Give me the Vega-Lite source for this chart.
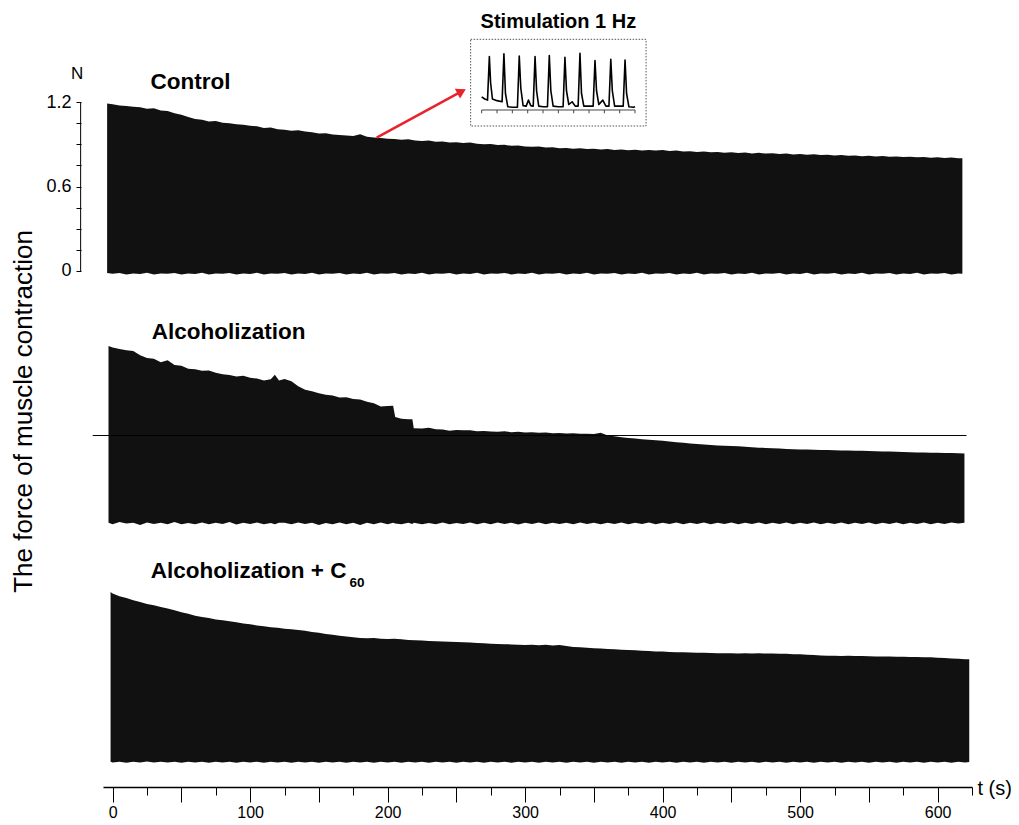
{
"$schema": "https://vega.github.io/schema/vega-lite/v6.json",
"width": 869, "height": 782,
"autosize": {"type": "none"},
"padding": {"left": 103, "top": 5, "right": 47, "bottom": 38},
"background": "white",
"config": {"view": {"stroke": null}, "font": "Liberation Sans",
  "axis": {"labelFont": "Liberation Sans", "titleFont": "Liberation Sans", "labelColor": "black", "titleColor": "black", "tickColor": "black", "domainColor": "black", "grid": false}},
"datasets": {
"ctrl": [
{"t":-4,"hi":1.19,"lo":-0.015},{"t":0,"hi":1.185,"lo":-0.02},{"t":5,"hi":1.176,"lo":-0.015},{"t":10,"hi":1.172,"lo":-0.024},{"t":15,"hi":1.167,"lo":-0.017},{"t":20,"hi":1.163,"lo":-0.021},{"t":25,"hi":1.152,"lo":-0.013},{"t":30,"hi":1.156,"lo":-0.025},{"t":35,"hi":1.14,"lo":-0.018},{"t":40,"hi":1.137,"lo":-0.02},{"t":45,"hi":1.121,"lo":-0.015},{"t":50,"hi":1.11,"lo":-0.024},{"t":55,"hi":1.093,"lo":-0.017},{"t":60,"hi":1.08,"lo":-0.021},{"t":65,"hi":1.075,"lo":-0.013},{"t":70,"hi":1.062,"lo":-0.025},{"t":75,"hi":1.066,"lo":-0.018},{"t":80,"hi":1.053,"lo":-0.02},{"t":85,"hi":1.05,"lo":-0.015},{"t":90,"hi":1.042,"lo":-0.024},{"t":95,"hi":1.038,"lo":-0.017},{"t":100,"hi":1.031,"lo":-0.021},{"t":105,"hi":1.028,"lo":-0.013},{"t":110,"hi":1.016,"lo":-0.025},{"t":115,"hi":1.02,"lo":-0.018},{"t":120,"hi":1.007,"lo":-0.02},{"t":125,"hi":1.004,"lo":-0.015},{"t":130,"hi":0.996,"lo":-0.024},{"t":135,"hi":1.0,"lo":-0.017},{"t":140,"hi":0.99,"lo":-0.021},{"t":145,"hi":0.985,"lo":-0.013},{"t":150,"hi":0.977,"lo":-0.025},{"t":155,"hi":0.979,"lo":-0.018},{"t":160,"hi":0.97,"lo":-0.02},{"t":165,"hi":0.966,"lo":-0.015},{"t":170,"hi":0.962,"lo":-0.024},{"t":175,"hi":0.958,"lo":-0.017},{"t":180,"hi":0.972,"lo":-0.021},{"t":185,"hi":0.953,"lo":-0.013},{"t":190,"hi":0.948,"lo":-0.025},{"t":195,"hi":0.944,"lo":-0.018},{"t":200,"hi":0.94,"lo":-0.02},{"t":205,"hi":0.938,"lo":-0.015},{"t":210,"hi":0.932,"lo":-0.024},{"t":215,"hi":0.935,"lo":-0.017},{"t":220,"hi":0.927,"lo":-0.021},{"t":225,"hi":0.924,"lo":-0.013},{"t":230,"hi":0.926,"lo":-0.025},{"t":235,"hi":0.918,"lo":-0.018},{"t":240,"hi":0.92,"lo":-0.02},{"t":245,"hi":0.913,"lo":-0.015},{"t":250,"hi":0.915,"lo":-0.024},{"t":255,"hi":0.909,"lo":-0.017},{"t":260,"hi":0.912,"lo":-0.021},{"t":265,"hi":0.903,"lo":-0.013},{"t":270,"hi":0.9,"lo":-0.025},{"t":275,"hi":0.902,"lo":-0.018},{"t":280,"hi":0.894,"lo":-0.02},{"t":285,"hi":0.896,"lo":-0.015},{"t":290,"hi":0.889,"lo":-0.024},{"t":295,"hi":0.891,"lo":-0.017},{"t":300,"hi":0.885,"lo":-0.021},{"t":305,"hi":0.882,"lo":-0.013},{"t":310,"hi":0.884,"lo":-0.025},{"t":315,"hi":0.877,"lo":-0.018},{"t":320,"hi":0.879,"lo":-0.02},{"t":325,"hi":0.872,"lo":-0.015},{"t":330,"hi":0.874,"lo":-0.024},{"t":335,"hi":0.868,"lo":-0.017},{"t":340,"hi":0.871,"lo":-0.021},{"t":345,"hi":0.866,"lo":-0.013},{"t":350,"hi":0.869,"lo":-0.025},{"t":355,"hi":0.863,"lo":-0.018},{"t":360,"hi":0.866,"lo":-0.02},{"t":365,"hi":0.86,"lo":-0.015},{"t":370,"hi":0.863,"lo":-0.024},{"t":375,"hi":0.857,"lo":-0.017},{"t":380,"hi":0.862,"lo":-0.021},{"t":385,"hi":0.856,"lo":-0.013},{"t":390,"hi":0.86,"lo":-0.025},{"t":395,"hi":0.855,"lo":-0.018},{"t":400,"hi":0.859,"lo":-0.02},{"t":405,"hi":0.852,"lo":-0.015},{"t":410,"hi":0.855,"lo":-0.024},{"t":415,"hi":0.848,"lo":-0.017},{"t":420,"hi":0.851,"lo":-0.021},{"t":425,"hi":0.846,"lo":-0.013},{"t":430,"hi":0.849,"lo":-0.025},{"t":435,"hi":0.843,"lo":-0.018},{"t":440,"hi":0.846,"lo":-0.02},{"t":445,"hi":0.84,"lo":-0.015},{"t":450,"hi":0.843,"lo":-0.024},{"t":455,"hi":0.838,"lo":-0.017},{"t":460,"hi":0.841,"lo":-0.021},{"t":465,"hi":0.835,"lo":-0.013},{"t":470,"hi":0.839,"lo":-0.025},{"t":475,"hi":0.834,"lo":-0.018},{"t":480,"hi":0.837,"lo":-0.02},{"t":485,"hi":0.831,"lo":-0.015},{"t":490,"hi":0.834,"lo":-0.024},{"t":495,"hi":0.828,"lo":-0.017},{"t":500,"hi":0.831,"lo":-0.021},{"t":505,"hi":0.826,"lo":-0.013},{"t":510,"hi":0.829,"lo":-0.025},{"t":515,"hi":0.823,"lo":-0.018},{"t":520,"hi":0.826,"lo":-0.02},{"t":525,"hi":0.82,"lo":-0.015},{"t":530,"hi":0.823,"lo":-0.024},{"t":535,"hi":0.818,"lo":-0.017},{"t":540,"hi":0.821,"lo":-0.021},{"t":545,"hi":0.815,"lo":-0.013},{"t":550,"hi":0.818,"lo":-0.025},{"t":555,"hi":0.813,"lo":-0.018},{"t":560,"hi":0.817,"lo":-0.02},{"t":565,"hi":0.811,"lo":-0.015},{"t":570,"hi":0.814,"lo":-0.024},{"t":575,"hi":0.809,"lo":-0.017},{"t":580,"hi":0.812,"lo":-0.021},{"t":585,"hi":0.807,"lo":-0.013},{"t":590,"hi":0.81,"lo":-0.025},{"t":595,"hi":0.805,"lo":-0.018},{"t":600,"hi":0.808,"lo":-0.02},{"t":605,"hi":0.803,"lo":-0.015},{"t":610,"hi":0.806,"lo":-0.024},{"t":615,"hi":0.8,"lo":-0.017},{"t":618,"hi":0.8,"lo":-0.02}
],
"alc": [
{"t":-3,"hi":1.236,"lo":-0.02},{"t":0,"hi":1.225,"lo":-0.03},{"t":5,"hi":1.215,"lo":-0.015},{"t":10,"hi":1.205,"lo":-0.025},{"t":15,"hi":1.2,"lo":-0.02},{"t":20,"hi":1.17,"lo":-0.035},{"t":25,"hi":1.15,"lo":-0.018},{"t":30,"hi":1.145,"lo":-0.028},{"t":35,"hi":1.12,"lo":-0.02},{"t":40,"hi":1.135,"lo":-0.03},{"t":45,"hi":1.1,"lo":-0.015},{"t":50,"hi":1.095,"lo":-0.03},{"t":55,"hi":1.075,"lo":-0.022},{"t":60,"hi":1.07,"lo":-0.03},{"t":65,"hi":1.06,"lo":-0.018},{"t":70,"hi":1.062,"lo":-0.03},{"t":75,"hi":1.045,"lo":-0.02},{"t":80,"hi":1.035,"lo":-0.028},{"t":85,"hi":1.03,"lo":-0.015},{"t":90,"hi":1.02,"lo":-0.032},{"t":95,"hi":1.025,"lo":-0.02},{"t":100,"hi":1.01,"lo":-0.028},{"t":105,"hi":1.005,"lo":-0.018},{"t":110,"hi":0.99,"lo":-0.03},{"t":115,"hi":1.0,"lo":-0.022},{"t":118,"hi":1.032,"lo":-0.03},{"t":121,"hi":0.99,"lo":-0.02},{"t":125,"hi":1.002,"lo":-0.02},{"t":130,"hi":0.985,"lo":-0.03},{"t":135,"hi":0.95,"lo":-0.018},{"t":140,"hi":0.925,"lo":-0.028},{"t":145,"hi":0.915,"lo":-0.02},{"t":150,"hi":0.9,"lo":-0.035},{"t":155,"hi":0.89,"lo":-0.022},{"t":160,"hi":0.885,"lo":-0.03},{"t":165,"hi":0.87,"lo":-0.018},{"t":170,"hi":0.872,"lo":-0.03},{"t":175,"hi":0.86,"lo":-0.02},{"t":180,"hi":0.855,"lo":-0.035},{"t":185,"hi":0.84,"lo":-0.02},{"t":190,"hi":0.83,"lo":-0.03},{"t":195,"hi":0.806,"lo":-0.018},{"t":200,"hi":0.81,"lo":-0.03},{"t":204,"hi":0.812,"lo":-0.02},{"t":205.5,"hi":0.732,"lo":-0.025},{"t":210,"hi":0.72,"lo":-0.03},{"t":215,"hi":0.716,"lo":-0.02},{"t":218,"hi":0.715,"lo":-0.028},{"t":219,"hi":0.652,"lo":-0.02},{"t":225,"hi":0.65,"lo":-0.03},{"t":230,"hi":0.655,"lo":-0.022},{"t":235,"hi":0.645,"lo":-0.03},{"t":240,"hi":0.642,"lo":-0.018},{"t":245,"hi":0.634,"lo":-0.03},{"t":250,"hi":0.64,"lo":-0.022},{"t":255,"hi":0.637,"lo":-0.028},{"t":260,"hi":0.638,"lo":-0.018},{"t":265,"hi":0.63,"lo":-0.03},{"t":270,"hi":0.633,"lo":-0.02},{"t":275,"hi":0.628,"lo":-0.03},{"t":280,"hi":0.627,"lo":-0.018},{"t":285,"hi":0.63,"lo":-0.028},{"t":290,"hi":0.624,"lo":-0.02},{"t":295,"hi":0.627,"lo":-0.032},{"t":300,"hi":0.622,"lo":-0.02},{"t":305,"hi":0.624,"lo":-0.028},{"t":310,"hi":0.62,"lo":-0.018},{"t":315,"hi":0.622,"lo":-0.03},{"t":320,"hi":0.617,"lo":-0.02},{"t":325,"hi":0.618,"lo":-0.028},{"t":330,"hi":0.614,"lo":-0.02},{"t":335,"hi":0.616,"lo":-0.03},{"t":340,"hi":0.612,"lo":-0.018},{"t":345,"hi":0.613,"lo":-0.028},{"t":350,"hi":0.61,"lo":-0.02},{"t":355,"hi":0.62,"lo":-0.03},{"t":360,"hi":0.6,"lo":-0.02},{"t":365,"hi":0.595,"lo":-0.028},{"t":370,"hi":0.588,"lo":-0.018},{"t":375,"hi":0.582,"lo":-0.03},{"t":380,"hi":0.578,"lo":-0.02},{"t":385,"hi":0.574,"lo":-0.028},{"t":390,"hi":0.57,"lo":-0.018},{"t":395,"hi":0.566,"lo":-0.03},{"t":400,"hi":0.563,"lo":-0.02},{"t":405,"hi":0.558,"lo":-0.028},{"t":410,"hi":0.552,"lo":-0.018},{"t":415,"hi":0.548,"lo":-0.03},{"t":420,"hi":0.543,"lo":-0.02},{"t":425,"hi":0.54,"lo":-0.028},{"t":430,"hi":0.536,"lo":-0.018},{"t":435,"hi":0.533,"lo":-0.03},{"t":440,"hi":0.53,"lo":-0.02},{"t":445,"hi":0.528,"lo":-0.028},{"t":450,"hi":0.525,"lo":-0.018},{"t":455,"hi":0.523,"lo":-0.03},{"t":460,"hi":0.52,"lo":-0.02},{"t":465,"hi":0.517,"lo":-0.028},{"t":470,"hi":0.514,"lo":-0.018},{"t":475,"hi":0.512,"lo":-0.03},{"t":480,"hi":0.51,"lo":-0.02},{"t":485,"hi":0.507,"lo":-0.028},{"t":490,"hi":0.505,"lo":-0.018},{"t":495,"hi":0.502,"lo":-0.03},{"t":500,"hi":0.501,"lo":-0.02},{"t":505,"hi":0.5,"lo":-0.028},{"t":510,"hi":0.499,"lo":-0.018},{"t":515,"hi":0.497,"lo":-0.03},{"t":520,"hi":0.497,"lo":-0.02},{"t":525,"hi":0.496,"lo":-0.028},{"t":530,"hi":0.494,"lo":-0.018},{"t":535,"hi":0.493,"lo":-0.03},{"t":540,"hi":0.492,"lo":-0.02},{"t":545,"hi":0.492,"lo":-0.028},{"t":550,"hi":0.49,"lo":-0.018},{"t":555,"hi":0.489,"lo":-0.03},{"t":560,"hi":0.487,"lo":-0.02},{"t":565,"hi":0.486,"lo":-0.028},{"t":570,"hi":0.485,"lo":-0.018},{"t":575,"hi":0.483,"lo":-0.03},{"t":580,"hi":0.482,"lo":-0.02},{"t":585,"hi":0.48,"lo":-0.028},{"t":590,"hi":0.479,"lo":-0.018},{"t":595,"hi":0.478,"lo":-0.03},{"t":600,"hi":0.477,"lo":-0.02},{"t":605,"hi":0.476,"lo":-0.028},{"t":610,"hi":0.475,"lo":-0.018},{"t":615,"hi":0.474,"lo":-0.025},{"t":619.5,"hi":0.473,"lo":-0.02}
],
"c60": [
{"t":-1.5,"hi":1.2,"lo":-0.005},{"t":0,"hi":1.19,"lo":-0.01},{"t":5,"hi":1.17,"lo":-0.005},{"t":10,"hi":1.158,"lo":-0.012},{"t":15,"hi":1.142,"lo":-0.006},{"t":20,"hi":1.13,"lo":-0.01},{"t":25,"hi":1.115,"lo":-0.004},{"t":30,"hi":1.106,"lo":-0.011},{"t":35,"hi":1.093,"lo":-0.006},{"t":40,"hi":1.083,"lo":-0.01},{"t":45,"hi":1.07,"lo":-0.005},{"t":50,"hi":1.056,"lo":-0.012},{"t":55,"hi":1.045,"lo":-0.006},{"t":60,"hi":1.032,"lo":-0.01},{"t":65,"hi":1.022,"lo":-0.005},{"t":70,"hi":1.015,"lo":-0.012},{"t":75,"hi":1.005,"lo":-0.006},{"t":80,"hi":0.999,"lo":-0.01},{"t":85,"hi":0.992,"lo":-0.005},{"t":90,"hi":0.985,"lo":-0.012},{"t":95,"hi":0.977,"lo":-0.006},{"t":100,"hi":0.971,"lo":-0.01},{"t":105,"hi":0.962,"lo":-0.005},{"t":110,"hi":0.957,"lo":-0.012},{"t":115,"hi":0.95,"lo":-0.006},{"t":120,"hi":0.946,"lo":-0.01},{"t":125,"hi":0.94,"lo":-0.005},{"t":130,"hi":0.935,"lo":-0.012},{"t":135,"hi":0.931,"lo":-0.006},{"t":140,"hi":0.925,"lo":-0.01},{"t":145,"hi":0.917,"lo":-0.005},{"t":150,"hi":0.91,"lo":-0.012},{"t":155,"hi":0.902,"lo":-0.006},{"t":160,"hi":0.896,"lo":-0.01},{"t":165,"hi":0.889,"lo":-0.005},{"t":170,"hi":0.884,"lo":-0.012},{"t":175,"hi":0.879,"lo":-0.006},{"t":180,"hi":0.874,"lo":-0.01},{"t":185,"hi":0.871,"lo":-0.005},{"t":190,"hi":0.873,"lo":-0.012},{"t":195,"hi":0.868,"lo":-0.006},{"t":200,"hi":0.866,"lo":-0.01},{"t":205,"hi":0.868,"lo":-0.005},{"t":210,"hi":0.864,"lo":-0.012},{"t":215,"hi":0.86,"lo":-0.006},{"t":220,"hi":0.857,"lo":-0.01},{"t":225,"hi":0.855,"lo":-0.005},{"t":230,"hi":0.853,"lo":-0.012},{"t":235,"hi":0.85,"lo":-0.006},{"t":240,"hi":0.849,"lo":-0.01},{"t":245,"hi":0.847,"lo":-0.005},{"t":250,"hi":0.845,"lo":-0.012},{"t":255,"hi":0.843,"lo":-0.006},{"t":260,"hi":0.842,"lo":-0.01},{"t":265,"hi":0.838,"lo":-0.005},{"t":270,"hi":0.836,"lo":-0.012},{"t":275,"hi":0.833,"lo":-0.006},{"t":280,"hi":0.831,"lo":-0.01},{"t":285,"hi":0.83,"lo":-0.005},{"t":290,"hi":0.828,"lo":-0.012},{"t":295,"hi":0.826,"lo":-0.006},{"t":300,"hi":0.824,"lo":-0.01},{"t":305,"hi":0.826,"lo":-0.005},{"t":310,"hi":0.822,"lo":-0.012},{"t":315,"hi":0.825,"lo":-0.006},{"t":320,"hi":0.82,"lo":-0.01},{"t":325,"hi":0.823,"lo":-0.005},{"t":330,"hi":0.816,"lo":-0.012},{"t":335,"hi":0.81,"lo":-0.006},{"t":340,"hi":0.807,"lo":-0.01},{"t":345,"hi":0.804,"lo":-0.005},{"t":350,"hi":0.801,"lo":-0.012},{"t":355,"hi":0.799,"lo":-0.006},{"t":360,"hi":0.795,"lo":-0.01},{"t":365,"hi":0.793,"lo":-0.005},{"t":370,"hi":0.79,"lo":-0.012},{"t":375,"hi":0.788,"lo":-0.006},{"t":380,"hi":0.786,"lo":-0.01},{"t":385,"hi":0.783,"lo":-0.005},{"t":390,"hi":0.781,"lo":-0.012},{"t":395,"hi":0.778,"lo":-0.006},{"t":400,"hi":0.777,"lo":-0.01},{"t":405,"hi":0.775,"lo":-0.005},{"t":410,"hi":0.773,"lo":-0.012},{"t":415,"hi":0.772,"lo":-0.006},{"t":420,"hi":0.77,"lo":-0.01},{"t":425,"hi":0.769,"lo":-0.005},{"t":430,"hi":0.768,"lo":-0.012},{"t":435,"hi":0.767,"lo":-0.006},{"t":440,"hi":0.766,"lo":-0.01},{"t":445,"hi":0.765,"lo":-0.005},{"t":450,"hi":0.765,"lo":-0.012},{"t":455,"hi":0.764,"lo":-0.006},{"t":460,"hi":0.766,"lo":-0.01},{"t":465,"hi":0.764,"lo":-0.005},{"t":470,"hi":0.765,"lo":-0.012},{"t":475,"hi":0.763,"lo":-0.006},{"t":480,"hi":0.764,"lo":-0.01},{"t":485,"hi":0.761,"lo":-0.005},{"t":490,"hi":0.762,"lo":-0.012},{"t":495,"hi":0.759,"lo":-0.006},{"t":500,"hi":0.758,"lo":-0.01},{"t":505,"hi":0.755,"lo":-0.005},{"t":510,"hi":0.752,"lo":-0.012},{"t":515,"hi":0.749,"lo":-0.006},{"t":520,"hi":0.747,"lo":-0.01},{"t":525,"hi":0.748,"lo":-0.005},{"t":530,"hi":0.745,"lo":-0.012},{"t":535,"hi":0.747,"lo":-0.006},{"t":540,"hi":0.745,"lo":-0.01},{"t":545,"hi":0.746,"lo":-0.005},{"t":550,"hi":0.744,"lo":-0.012},{"t":555,"hi":0.743,"lo":-0.006},{"t":560,"hi":0.742,"lo":-0.01},{"t":565,"hi":0.742,"lo":-0.005},{"t":570,"hi":0.741,"lo":-0.012},{"t":575,"hi":0.74,"lo":-0.006},{"t":580,"hi":0.739,"lo":-0.01},{"t":585,"hi":0.738,"lo":-0.005},{"t":590,"hi":0.737,"lo":-0.012},{"t":595,"hi":0.736,"lo":-0.006},{"t":600,"hi":0.734,"lo":-0.01},{"t":605,"hi":0.731,"lo":-0.005},{"t":610,"hi":0.728,"lo":-0.012},{"t":615,"hi":0.726,"lo":-0.006},{"t":620,"hi":0.723,"lo":-0.01},{"t":623,"hi":0.722,"lo":-0.008}
],
"inset": [
{"t":0,"v":0.24},{"t":0.2,"v":0.2},{"t":0.38,"v":0.18},{"t":0.5,"v":0.97},{"t":0.58,"v":0.5},{"t":0.7,"v":0.2},{"t":1.0,"v":0.17},{"t":1.33,"v":0.15},{"t":1.45,"v":1.02},{"t":1.55,"v":0.3},{"t":1.7,"v":0.06},{"t":2.0,"v":0.05},{"t":2.33,"v":0.05},{"t":2.45,"v":0.98},{"t":2.55,"v":0.4},{"t":2.7,"v":0.08},{"t":2.9,"v":0.07},{"t":3.05,"v":0.18},{"t":3.2,"v":0.08},{"t":3.36,"v":0.07},{"t":3.48,"v":0.97},{"t":3.58,"v":0.35},{"t":3.72,"v":0.07},{"t":4.0,"v":0.06},{"t":4.29,"v":0.06},{"t":4.41,"v":0.99},{"t":4.51,"v":0.35},{"t":4.66,"v":0.07},{"t":5.0,"v":0.06},{"t":5.31,"v":0.06},{"t":5.43,"v":0.96},{"t":5.53,"v":0.35},{"t":5.68,"v":0.1},{"t":5.9,"v":0.15},{"t":6.1,"v":0.07},{"t":6.29,"v":0.07},{"t":6.41,"v":1.03},{"t":6.51,"v":0.3},{"t":6.66,"v":0.07},{"t":7.0,"v":0.07},{"t":7.27,"v":0.07},{"t":7.39,"v":0.9},{"t":7.49,"v":0.35},{"t":7.64,"v":0.1},{"t":7.9,"v":0.18},{"t":8.1,"v":0.07},{"t":8.3,"v":0.07},{"t":8.42,"v":0.92},{"t":8.52,"v":0.35},{"t":8.67,"v":0.07},{"t":9.0,"v":0.07},{"t":9.23,"v":0.07},{"t":9.35,"v":0.91},{"t":9.45,"v":0.3},{"t":9.6,"v":0.06},{"t":9.9,"v":0.05},{"t":10.0,"v":0.06}
],
"insetTicks": [{"k":0},{"k":1},{"k":2},{"k":3},{"k":4},{"k":5},{"k":6},{"k":7},{"k":8},{"k":9},{"k":10}]
},
"resolve": {"scale": {"x": "independent", "y": "independent"}, "axis": {"x": "independent", "y": "independent"}},
"layer": [
{"data": {"name": "ctrl"},
 "mark": {"type": "area", "color": "#111111", "interpolate": "linear"},
 "encoding": {
   "x": {"field": "t", "type": "quantitative", "scale": {"domain": [-7, 625], "nice": false, "zero": false}, "axis": null},
   "y": {"field": "hi", "type": "quantitative", "scale": {"domain": [-3.6648, 1.8892], "nice": false, "zero": false},
         "axis": {"orient": "left", "values": [0, 0.15, 0.3, 0.45, 0.6, 0.75, 0.9, 1.05, 1.2], "format": ".2~f",
                  "labelExpr": "datum.value === 0 || datum.value === 0.6 || datum.value === 1.2 ? datum.label : ''",
                  "domain": false, "offset": 22, "tickSize": 5, "tickWidth": 1, "labelPadding": 5, "labelFontSize": 18,
                  "labelOverlap": false, "labelFlush": false,
                  "title": "The force of muscle contraction", "titleFontSize": 26, "titleFontWeight": "normal",
                  "titlePadding": 9, "titleY": 406}},
   "y2": {"field": "lo"}
 }},
{"data": {"values": [{"label": "axis"}]},
 "mark": {"type": "rule", "color": "black", "strokeWidth": 1},
 "encoding": {
   "x": {"datum": -23.27, "scale": {"domain": [-7, 625], "nice": false, "zero": false}, "axis": null},
   "y": {"datum": 0, "scale": {"domain": [-3.6648, 1.8892], "nice": false, "zero": false}, "axis": null},
   "y2": {"datum": 1.2}
 }},
{"data": {"values": [{"label": "Control"}]},
 "mark": {"type": "text", "align": "left", "baseline": "alphabetic", "fontSize": 22.5, "fontWeight": "bold", "color": "black"},
 "encoding": {
   "x": {"datum": 27.6, "scale": {"domain": [-7, 625], "nice": false, "zero": false}, "axis": null},
   "y": {"datum": 1.29, "scale": {"domain": [-3.6648, 1.8892], "nice": false, "zero": false}, "axis": null},
   "text": {"field": "label"}
 }},
{"data": {"values": [{"label": "N"}]},
 "mark": {"type": "text", "align": "center", "baseline": "middle", "fontSize": 17, "color": "black"},
 "encoding": {
   "x": {"datum": -25.8, "scale": {"domain": [-7, 625], "nice": false, "zero": false}, "axis": null},
   "y": {"datum": 1.401, "scale": {"domain": [-3.6648, 1.8892], "nice": false, "zero": false}, "axis": null},
   "text": {"field": "label"}
 }},
{"data": {"name": "alc"},
 "mark": {"type": "area", "color": "#111111", "interpolate": "linear"},
 "encoding": {
   "x": {"field": "t", "type": "quantitative", "scale": {"domain": [-7, 625], "nice": false, "zero": false}, "axis": null},
   "y": {"field": "hi", "type": "quantitative", "scale": {"domain": [-1.8963, 3.6577], "nice": false, "zero": false}, "axis": null},
   "y2": {"field": "lo"}
 }},
{"data": {"values": [{"label": "reference"}]},
 "mark": {"type": "rule", "color": "black", "strokeWidth": 1},
 "encoding": {
   "x": {"datum": -14.5, "scale": {"domain": [-7, 625], "nice": false, "zero": false}, "axis": null},
   "x2": {"datum": 621},
   "y": {"datum": 0.6, "scale": {"domain": [-1.8963, 3.6577], "nice": false, "zero": false}, "axis": null}
 }},
{"data": {"values": [{"label": "Alcoholization"}]},
 "mark": {"type": "text", "align": "left", "baseline": "alphabetic", "fontSize": 22.5, "fontWeight": "bold", "color": "black"},
 "encoding": {
   "x": {"datum": 28.4, "scale": {"domain": [-7, 625], "nice": false, "zero": false}, "axis": null},
   "y": {"datum": 1.289, "scale": {"domain": [-1.8963, 3.6577], "nice": false, "zero": false}, "axis": null},
   "text": {"field": "label"}
 }},
{"data": {"name": "c60"},
 "mark": {"type": "area", "color": "#111111", "interpolate": "linear"},
 "encoding": {
   "x": {"field": "t", "type": "quantitative", "scale": {"domain": [-7, 625], "nice": false, "zero": false},
         "axis": {"orient": "bottom", "values": [0,25,50,75,100,125,150,175,200,225,250,275,300,325,350,375,400,425,450,475,500,525,550,575,600,625],
                  "labelExpr": "datum.value % 100 === 0 ? datum.label : ''",
                  "tickSize": {"condition": {"test": "datum.value % 50 === 0", "value": 15}, "value": 8},
                  "tickWidth": 1, "domainWidth": 1.5, "labelPadding": 2, "labelFontSize": 16,
                  "labelOverlap": false, "labelFlush": false,
                  "title": "t (s)", "titleFontSize": 20, "titleFontWeight": "normal",
                  "titleAngle": 0, "titleAlign": "left", "titleBaseline": "middle", "titleX": 874, "titleY": 1}},
   "y": {"field": "hi", "type": "quantitative", "scale": {"domain": [-0.1847, 5.3693], "nice": false, "zero": false}, "axis": null},
   "y2": {"field": "lo"}
 }},
{"data": {"values": [{"label": "Alcoholization + C"}]},
 "mark": {"type": "text", "align": "left", "baseline": "alphabetic", "fontSize": 22.5, "fontWeight": "bold", "color": "black"},
 "encoding": {
   "x": {"datum": 27.8, "scale": {"domain": [-7, 625], "nice": false, "zero": false}, "axis": null},
   "y": {"datum": 1.2976, "scale": {"domain": [-0.1847, 5.3693], "nice": false, "zero": false}, "axis": null},
   "text": {"field": "label"}
 }},
{"data": {"values": [{"label": "60"}]},
 "mark": {"type": "text", "align": "left", "baseline": "alphabetic", "fontSize": 13.5, "fontWeight": "bold", "color": "black"},
 "encoding": {
   "x": {"datum": 172.3, "scale": {"domain": [-7, 625], "nice": false, "zero": false}, "axis": null},
   "y": {"datum": 1.236, "scale": {"domain": [-0.1847, 5.3693], "nice": false, "zero": false}, "axis": null},
   "text": {"field": "label"}
 }},
{"data": {"values": [{"label": "box"}]},
 "mark": {"type": "rect", "fill": null, "fillOpacity": 0, "stroke": "#555555", "strokeWidth": 1, "strokeDash": [1.5, 1.5]},
 "encoding": {
   "x": {"datum": -0.72, "scale": {"domain": [-24.70, 31.98], "nice": false, "zero": false}, "axis": null},
   "x2": {"datum": 10.72},
   "y": {"datum": 1.285, "scale": {"domain": [-12.309, 1.909], "nice": false, "zero": false}, "axis": null},
   "y2": {"datum": -0.291}
 }},
{"data": {"values": [{"label": "baseline"}]},
 "mark": {"type": "rule", "color": "#444444", "strokeWidth": 1},
 "encoding": {
   "x": {"datum": 0, "scale": {"domain": [-24.70, 31.98], "nice": false, "zero": false}, "axis": null},
   "x2": {"datum": 10},
   "y": {"datum": 0, "scale": {"domain": [-12.309, 1.909], "nice": false, "zero": false}, "axis": null}
 }},
{"data": {"name": "insetTicks"},
 "mark": {"type": "rule", "color": "#444444", "strokeWidth": 1},
 "encoding": {
   "x": {"field": "k", "type": "quantitative", "scale": {"domain": [-24.70, 31.98], "nice": false, "zero": false}, "axis": null},
   "y": {"datum": 0, "scale": {"domain": [-12.309, 1.909], "nice": false, "zero": false}, "axis": null},
   "y2": {"datum": -0.06}
 }},
{"data": {"name": "inset"},
 "mark": {"type": "line", "color": "black", "strokeWidth": 1.6, "strokeJoin": "round"},
 "encoding": {
   "x": {"field": "t", "type": "quantitative", "scale": {"domain": [-24.70, 31.98], "nice": false, "zero": false}, "axis": null},
   "y": {"field": "v", "type": "quantitative", "scale": {"domain": [-12.309, 1.909], "nice": false, "zero": false}, "axis": null}
 }},
{"data": {"values": [{"label": "Stimulation 1 Hz"}]},
 "mark": {"type": "text", "align": "center", "baseline": "alphabetic", "fontSize": 20, "fontWeight": "bold", "color": "black"},
 "encoding": {
   "x": {"datum": 5, "scale": {"domain": [-24.70, 31.98], "nice": false, "zero": false}, "axis": null},
   "y": {"datum": 1.485, "scale": {"domain": [-12.309, 1.909], "nice": false, "zero": false}, "axis": null},
   "text": {"field": "label"}
 }},
{"data": {"values": [{"label": "arrow"}]},
 "mark": {"type": "rule", "color": "#e8232b", "strokeWidth": 2.5},
 "encoding": {
   "x": {"datum": -6.85, "scale": {"domain": [-24.70, 31.98], "nice": false, "zero": false}, "axis": null},
   "y": {"datum": -0.504, "scale": {"domain": [-12.309, 1.909], "nice": false, "zero": false}, "axis": null},
   "x2": {"datum": -1.31},
   "y2": {"datum": 0.338}
 }},
{"data": {"values": [{"label": "arrowhead"}]},
 "mark": {"type": "point", "shape": "triangle-up", "filled": true, "color": "#e8232b", "opacity": 1, "size": 120, "angle": 61.4},
 "encoding": {
   "x": {"datum": -1.31, "scale": {"domain": [-24.70, 31.98], "nice": false, "zero": false}, "axis": null},
   "y": {"datum": 0.338, "scale": {"domain": [-12.309, 1.909], "nice": false, "zero": false}, "axis": null}
 }}
]
}
